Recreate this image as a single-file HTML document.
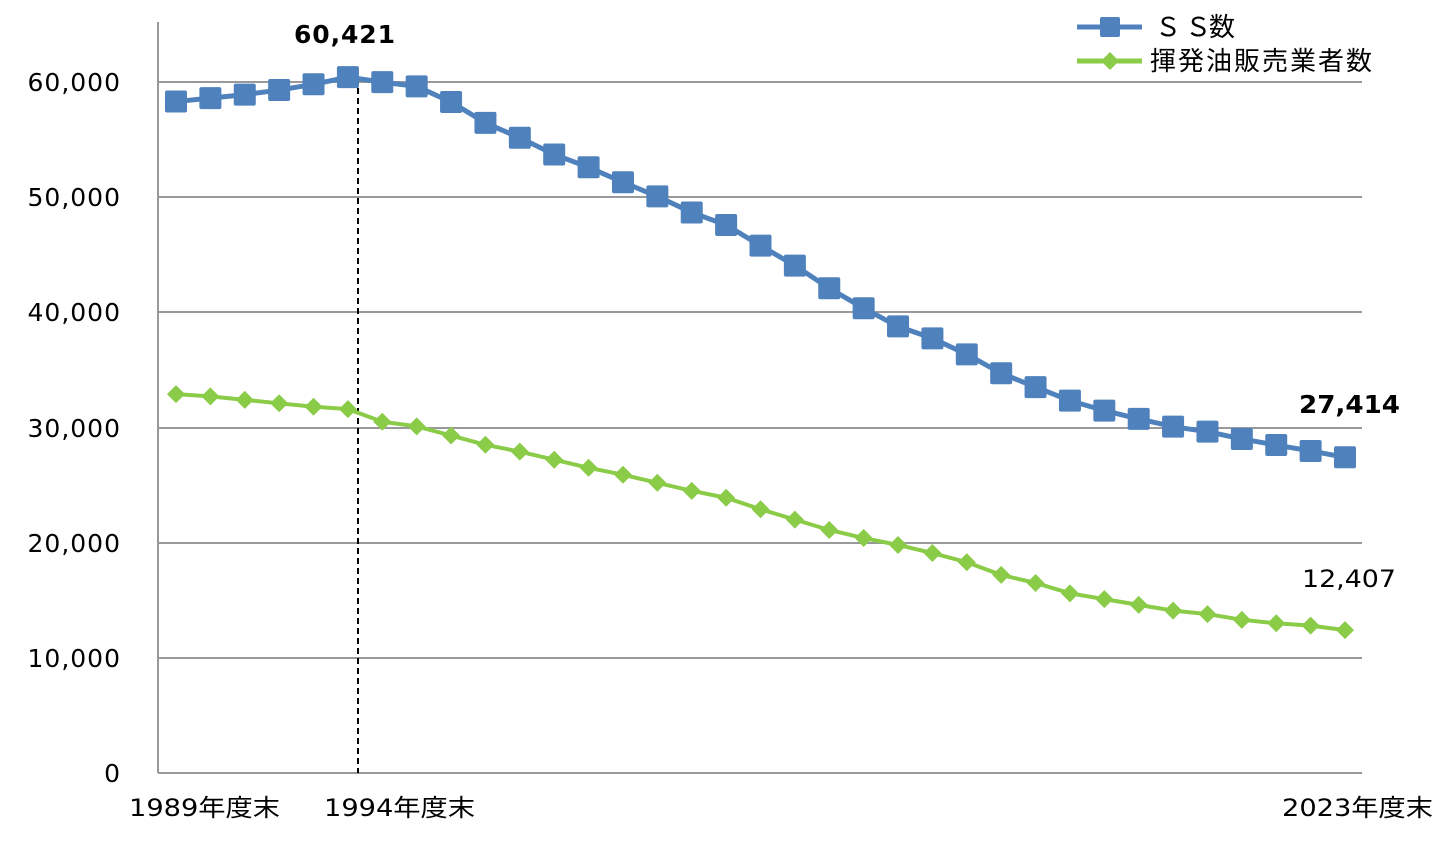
<!DOCTYPE html>
<html><head><meta charset="utf-8"><style>
body{margin:0;background:#fff;}
svg text{font-family:"DejaVu Sans","Noto Sans CJK JP",sans-serif;}
</style></head><body>
<svg id="c" width="1452" height="840" xmlns="http://www.w3.org/2000/svg">
<g stroke="#999" stroke-width="2">
<line x1="158" y1="82" x2="1362" y2="82"/><line x1="158" y1="197" x2="1362" y2="197"/>
<line x1="158" y1="312" x2="1362" y2="312"/><line x1="158" y1="428" x2="1362" y2="428"/>
<line x1="158" y1="543" x2="1362" y2="543"/><line x1="158" y1="658" x2="1362" y2="658"/>
<line x1="158" y1="773" x2="1362" y2="773"/><line x1="158" y1="22" x2="158" y2="773"/>
</g>
<line x1="358" y1="78" x2="358" y2="773" stroke="#000" stroke-width="2" stroke-dasharray="6,4"/>
<g font-size="25" fill="#000" text-anchor="end" letter-spacing="1">
<text x="121" y="91">60,000</text><text x="121" y="206">50,000</text><text x="121" y="321">40,000</text>
<text x="121" y="437">30,000</text><text x="121" y="552">20,000</text><text x="121" y="667">10,000</text>
<text x="121" y="782">0</text></g>
<g font-size="24" fill="#000">
<text x="129" y="816" textLength="151" lengthAdjust="spacingAndGlyphs">1989年度末</text><text x="324" y="816" textLength="151" lengthAdjust="spacingAndGlyphs">1994年度末</text><text x="1282" y="816" textLength="151" lengthAdjust="spacingAndGlyphs">2023年度末</text>
<text x="294" y="43" font-weight="bold" font-size="25" textLength="101">60,421</text>
<text x="1299" y="413" font-weight="bold" font-size="25" textLength="101" lengthAdjust="spacingAndGlyphs">27,414</text>
<text x="1302" y="587" textLength="94" lengthAdjust="spacingAndGlyphs">12,407</text>
</g>
<g id="s"></g>
<line x1="1077" y1="27" x2="1142" y2="27" stroke="#4f81bd" stroke-width="5"/>
<rect x="1100" y="17" width="20" height="20" rx="2" fill="#4f81bd"/>
<text x="1155" y="36" font-size="26" textLength="80">Ｓ Ｓ数</text>
<line x1="1077" y1="61" x2="1142" y2="61" stroke="#8acb48" stroke-width="5"/>
<polygon points="1110,52 1119,61 1110,70 1101,61" fill="#8acb48"/>
<text x="1150" y="70" font-size="26" textLength="222">揮発油販売業者数</text>
</svg>
<script>
var ss=[58300,58600,58900,59300,59800,60421,59990,59615,58263,56444,55153,53704,52592,51294,50067,48672,47584,45792,44057,42090,40357,38777,37743,36349,34706,33510,32333,31467,30747,30070,29637,29005,28475,27963,27414];
var gr=[32900,32700,32400,32100,31800,31600,30500,30100,29300,28500,27900,27200,26500,25900,25200,24500,23900,22900,22000,21100,20400,19800,19100,18300,17200,16500,15600,15100,14600,14100,13800,13300,13000,12800,12407];
function X(i){return 176+i*1169/34;}function Y(v){return 773-v*0.011517;}
var h='';
var p=gr.map(function(v,i){return X(i)+','+Y(v)}).join(' ');
h+='<polyline points="'+p+'" fill="none" stroke="#8acb48" stroke-width="4"/>';
gr.forEach(function(v,i){var x=X(i),y=Y(v);h+='<polygon points="'+x+','+(y-9)+' '+(x+9)+','+y+' '+x+','+(y+9)+' '+(x-9)+','+y+'" fill="#8acb48"/>';});
p=ss.map(function(v,i){return X(i)+','+Y(v)}).join(' ');
h+='<polyline points="'+p+'" fill="none" stroke="#4f81bd" stroke-width="5"/>';
ss.forEach(function(v,i){h+='<rect x="'+(X(i)-11)+'" y="'+(Y(v)-11)+'" width="22" height="22" rx="2" fill="#4f81bd"/>';});
document.getElementById('s').innerHTML=h;
</script>
</body></html>
